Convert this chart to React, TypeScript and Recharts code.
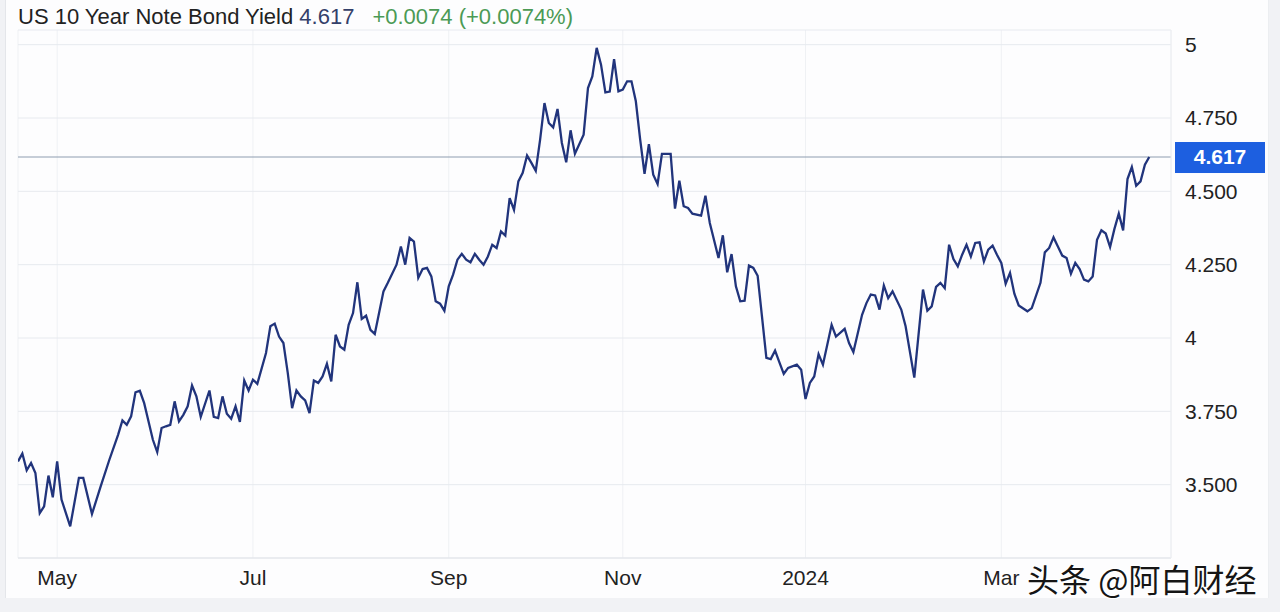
import { CartesianGrid, Line, LineChart, ReferenceLine, XAxis, YAxis } from "recharts";

// trading-day index since mid April 2023, and the 10y yield that day
const days = [
  0, 1, 2, 3, 4, 5, 6, 7, 8, 9, 10, 12, 14, 15, 17, 19, 21, 23, 24, 25, 26, 27, 28, 29,
  31, 32, 33, 34, 35, 36, 37, 38, 39, 40, 41, 42, 44, 45, 46, 47, 48, 49, 50, 51, 52, 53,
  54, 55, 57, 58, 59, 60, 61, 62, 63, 64, 65, 66, 67, 68, 69, 70, 71, 72, 73, 74, 75, 76,
  77, 78, 79, 80, 81, 82, 84, 85, 87, 88, 89, 90, 91, 92, 93, 94, 95, 96, 97, 98, 99, 100,
  101, 102, 103, 104, 105, 106, 107, 108, 109, 110, 111, 112, 113, 114, 115, 116, 117, 118,
  119, 120, 121, 122, 123, 124, 125, 126, 127, 128, 130, 131, 132, 133, 134, 135, 136, 137,
  138, 139, 140, 141, 142, 143, 144, 145, 146, 147, 148, 150, 151, 152, 153, 154, 155, 157,
  158, 159, 161, 162, 163, 164, 165, 166, 167, 168, 169, 170, 172, 173, 174, 175, 176, 177,
  179, 180, 181, 182, 183, 184, 185, 187, 188, 190, 191, 192, 194, 195, 196, 197, 198, 199,
  200, 201, 203, 204, 206, 208, 209, 210, 211, 212, 213, 214, 215, 216, 217, 218, 219, 220,
  221, 222, 223, 224, 225, 226, 227, 228, 229, 230, 232, 233, 235, 236, 237, 238, 239, 240,
  241, 242, 243, 244, 245, 246, 247, 248, 249, 250, 251, 252, 253, 254, 255, 256, 257, 258,
  259, 260,
];

const yields = [
  3.579, 3.606, 3.549, 3.574, 3.54, 3.403, 3.426, 3.531, 3.457, 3.579, 3.449, 3.358, 3.523,
  3.523, 3.4, 3.494, 3.585, 3.67, 3.719, 3.704, 3.733, 3.815, 3.82, 3.778, 3.653, 3.611,
  3.693, 3.699, 3.704, 3.784, 3.716, 3.738, 3.767, 3.838, 3.801, 3.731, 3.821, 3.731, 3.727,
  3.801, 3.742, 3.725, 3.767, 3.714, 3.855, 3.821, 3.858, 3.844, 3.949, 4.04, 4.049, 4.005,
  3.983, 3.881, 3.761, 3.821, 3.801, 3.787, 3.744, 3.855, 3.847, 3.869, 3.912, 3.852, 4.011,
  3.971, 3.96, 4.045, 4.085, 4.19, 4.065, 4.076, 4.028, 4.014, 4.159, 4.188, 4.25, 4.312,
  4.25, 4.341, 4.329, 4.205, 4.235, 4.239, 4.21, 4.125, 4.117, 4.093, 4.176, 4.216, 4.267,
  4.287, 4.267, 4.258, 4.287, 4.267, 4.25, 4.278, 4.318, 4.307, 4.363, 4.349, 4.477, 4.437,
  4.534, 4.563, 4.622, 4.597, 4.57, 4.676, 4.801, 4.733, 4.718, 4.781, 4.665, 4.599, 4.708,
  4.628, 4.693, 4.852, 4.892, 4.989, 4.932, 4.837, 4.84, 4.951, 4.841, 4.847, 4.875, 4.875,
  4.807, 4.676, 4.56, 4.661, 4.557, 4.525, 4.628, 4.628, 4.441, 4.536, 4.449, 4.443, 4.424,
  4.417, 4.485, 4.392, 4.273, 4.35, 4.224, 4.286, 4.176, 4.125, 4.127, 4.247, 4.239, 4.212,
  3.932, 3.928, 3.957, 3.917, 3.878, 3.898, 3.909, 3.892, 3.792, 3.847, 3.869, 3.945, 3.909,
  4.045, 4.005, 4.031, 3.983, 3.952, 4.079, 4.119, 4.148, 4.145, 4.097, 4.179, 4.136, 4.159,
  4.097, 4.04, 3.865, 4.165, 4.093, 4.108, 4.174, 4.188, 4.17, 4.318, 4.269, 4.244, 4.284,
  4.318, 4.278, 4.324, 4.326, 4.261, 4.301, 4.315, 4.284, 4.256, 4.185, 4.222, 4.151, 4.111,
  4.091, 4.102, 4.188, 4.292, 4.307, 4.343, 4.312, 4.281, 4.273, 4.219, 4.256, 4.235, 4.199,
  4.193, 4.21, 4.335, 4.367, 4.356, 4.31, 4.372, 4.424, 4.367, 4.542, 4.583, 4.519, 4.534,
  4.591, 4.617,
];

const monthTicks = [9, 54, 99, 139, 181, 226];
const monthLabels = ["May", "Jul", "Sep", "Nov", "2024", "Mar"];
const yieldTicks = [3.5, 3.75, 4, 4.25, 4.5, 4.75, 5];

const title = "US 10 Year Note Bond Yield";
const lastYield = 4.617;
const change = "+0.0074 (+0.0074%)";

const data = days.map((d, i) => ({ day: d, yield: yields[i] }));

const FONT = "'Liberation Sans', Arial, sans-serif";

function fmtYield(v: number) {
  return Number.isInteger(v) ? String(v) : v.toFixed(3);
}

function PriceTag({ viewBox }: any) {
  if (!viewBox) return null;
  const x = viewBox.x + viewBox.width + 4;
  const y = viewBox.y;
  return (
    <g>
      <rect x={x} y={y - 15} width={90} height={31} fill="#1d5fe0" />
      <text
        x={x + 45}
        y={y + 1}
        textAnchor="middle"
        dominantBaseline="middle"
        fill="#fff"
        fontSize={21}
        fontWeight={700}
        fontFamily={FONT}
      >
        {lastYield.toFixed(3)}
      </text>
    </g>
  );
}

export default function App() {
  return (
    <div
      style={{
        position: "absolute",
        left: 0,
        top: 0,
        width: 1280,
        height: 612,
        background: "#f1f2f5",
        fontFamily: FONT,
        overflow: "hidden",
      }}
    >
      <div
        style={{
          position: "absolute",
          left: 5,
          top: 0,
          width: 1262,
          height: 598,
          background: "#fdfdfe",
          borderLeft: "1px solid #e4e6ea",
          borderRight: "1px solid #eceef1",
        }}
      />
      <div
        style={{
          position: "absolute",
          left: 18,
          top: 4,
          fontSize: 22,
          lineHeight: "26px",
          whiteSpace: "nowrap",
          color: "#222",
        }}
      >
        {title} <span style={{ color: "#34406a" }}>{lastYield}</span>
        <span style={{ color: "#4b9a55", marginLeft: 18 }}>{change}</span>
      </div>

      <div style={{ position: "absolute", left: 0, top: 0 }}>
        <LineChart
          width={1280}
          height={612}
          data={data}
          margin={{ top: 30, right: 9, left: 18, bottom: 14 }}
          style={{ fontFamily: FONT }}
        >
          <CartesianGrid horizontal={false} stroke="#eff1f4" />
          <CartesianGrid vertical={false} stroke="#e7eaef" />
          <XAxis
            type="number"
            dataKey="day"
            domain={[0, 265]}
            ticks={monthTicks}
            tickFormatter={(v: number) => monthLabels[monthTicks.indexOf(v)]}
            axisLine={{ stroke: "#e2e5ea" }}
            tickLine={false}
            tickSize={0}
            tickMargin={12}
            height={40}
            tick={{ fill: "#222", fontSize: 21 }}
            allowDataOverflow
          />
          <YAxis
            orientation="right"
            type="number"
            domain={[3.25, 5.05]}
            ticks={yieldTicks}
            tickFormatter={fmtYield}
            axisLine={{ stroke: "#eceef2" }}
            tickLine={false}
            tickSize={0}
            tickMargin={14}
            width={100}
            tick={{ fill: "#222", fontSize: 21, textAnchor: "start" }}
            allowDataOverflow
          />
          <ReferenceLine
            y={lastYield}
            stroke="#8e9db0"
            strokeWidth={1}
            label={<PriceTag />}
          />
          <Line
            type="linear"
            dataKey="yield"
            stroke="#21347c"
            strokeWidth={2.3}
            dot={false}
            isAnimationActive={false}
          />
        </LineChart>
      </div>

      <div
        style={{
          position: "absolute",
          left: 1027,
          top: 559,
          fontSize: 32,
          lineHeight: "38px",
          whiteSpace: "nowrap",
          fontFamily: "'Noto Sans CJK SC', sans-serif",
          color: "#151515",
          textShadow: "1px 1px 0 #fff, -1px -1px 0 #fff, 1px -1px 0 #fff, -1px 1px 0 #fff",
        }}
      >
        头条 @阿白财经
      </div>
    </div>
  );
}
